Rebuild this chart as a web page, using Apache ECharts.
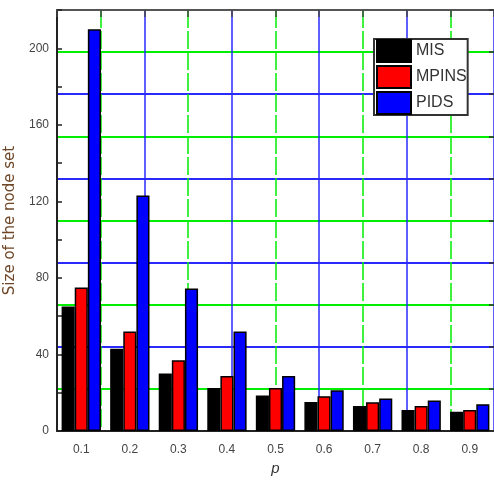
<!DOCTYPE html>
<html>
<head>
<meta charset="utf-8">
<script src="https://cdn.jsdelivr.net/npm/echarts@6/dist/echarts.min.js"></script>
<style>
  html, body { margin: 0; padding: 0; background: #fff; }
  #chart { width: 494px; height: 481px; }
</style>
</head>
<body>
<div id="chart"></div>
<script>
// Probability p on the x axis
const categories = ['0.1', '0.2', '0.3', '0.4', '0.5', '0.6', '0.7', '0.8', '0.9'];

// Size of the node set for each method
const misValues   = [65, 43, 30, 22.5, 18.5, 15.2, 13, 11, 10];
const mpinsValues = [75, 52, 37, 28.8, 22.5, 18.2, 15, 13, 11];
const pidsValues  = [210, 123, 74.5, 52, 28.8, 21.3, 17, 16, 14];

// Labelled values on the left axis
const yTickLabels = [0, 40, 80, 120, 160, 200];

const FONT = 'Liberation Sans, Arial, sans-serif';

const chart = echarts.init(document.getElementById('chart'), null, { renderer: 'canvas' });

function barSeries(name, color, data) {
  return {
    name: name,
    type: 'bar',
    xAxisIndex: 0,
    yAxisIndex: 0,
    data: data,
    barGap: '0%',
    barCategoryGap: '19%',
    itemStyle: { color: color, borderColor: '#000', borderWidth: 1.5 },
    z: 5
  };
}

chart.setOption({
  animation: false,
  backgroundColor: '#fff',
  grid: { left: 57, top: 10, width: 437, height: 421, outerBoundsMode: 'none', containLabel: false },
  legend: {
    orient: 'vertical',
    left: 374,
    top: 39,
    icon: 'rect',
    itemWidth: 34,
    itemHeight: 22,
    itemGap: 2,
    padding: [0, 1, 0, 2],
    borderColor: '#333',
    borderWidth: 2,
    backgroundColor: '#fff',
    textStyle: { fontSize: 16, lineHeight: 22, color: '#333', fontFamily: FONT },
    z: 20
  },
  xAxis: [
    {
      type: 'category',
      data: categories,
      position: 'bottom',
      axisLine: { onZero: false, lineStyle: { color: '#222', width: 2 } },
      axisTick: { inside: true, length: 3, lineStyle: { color: '#222', width: 1.5 } },
      axisLabel: { color: '#444', fontSize: 12, margin: 13, fontFamily: FONT },
      splitLine: { show: false },
      name: 'p',
      nameLocation: 'middle',
      nameGap: 29,
      nameTextStyle: { fontStyle: 'italic', fontSize: 15, color: '#333', fontFamily: FONT }
    },
    {
      // top frame with dashed green vertical grid lines at odd divisions
      type: 'value',
      position: 'top',
      min: 0, max: 10, interval: 1,
      axisLine: { show: true, onZero: false, lineStyle: { color: '#555', width: 2 } },
      axisTick: { show: true, inside: true, length: 7, lineStyle: { color: '#444', width: 1.5 } },
      axisLabel: { show: false },
      splitLine: {
        show: true,
        lineStyle: { color: ['rgba(0,0,0,0)', '#00ee00'], type: [18, 3], width: 1.5 }
      }
    },
    {
      // solid blue vertical grid lines at even divisions
      type: 'value',
      min: 0, max: 10, interval: 2,
      axisLine: { show: false, onZero: false },
      axisTick: { show: false },
      axisLabel: { show: false },
      splitLine: { show: true, lineStyle: { color: '#2a2aff', width: 1.5 } }
    }
  ],
  yAxis: [
    {
      type: 'value',
      position: 'left',
      min: 0, max: 220, interval: 20,
      axisLine: { show: true, onZero: false, lineStyle: { color: '#222', width: 2 } },
      axisTick: { inside: true, length: 5, lineStyle: { color: '#222', width: 1.5 } },
      axisLabel: {
        color: '#444', fontSize: 12, margin: 8, fontFamily: FONT,
        formatter: function (v) { return yTickLabels.indexOf(v) >= 0 ? String(v) : ''; }
      },
      splitLine: { show: false },
      name: 'Size of the node set',
      nameLocation: 'middle',
      nameGap: 34,
      nameTextStyle: { color: '#6e4526', fontSize: 15, fontFamily: 'DejaVu Sans, sans-serif' }
    },
    {
      // right side: ticks and alternating green / blue horizontal grid lines
      type: 'value',
      position: 'right',
      min: 0, max: 220, interval: 22,
      axisLine: { show: false, onZero: false },
      axisTick: { show: true, inside: true, length: 5, lineStyle: { color: '#333', width: 1.5 } },
      axisLabel: { show: false },
      splitLine: { show: true, lineStyle: { color: ['#2a2aff', '#00ee00'], width: 2 } }
    }
  ],
  series: [
    barSeries('MIS', '#000000', misValues),
    barSeries('MPINS', '#ff0000', mpinsValues),
    barSeries('PIDS', '#0000ff', pidsValues)
  ]
});
</script>
</body>
</html>
